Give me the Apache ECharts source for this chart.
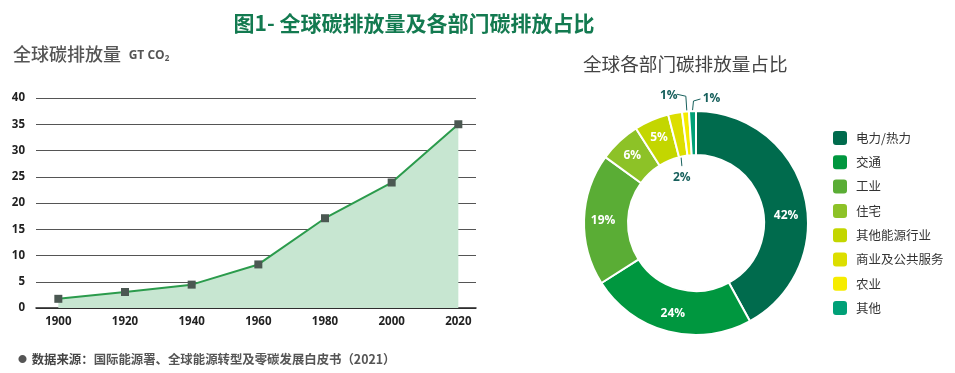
<!DOCTYPE html>
<html>
<head>
<meta charset="utf-8">
<script src="https://cdn.jsdelivr.net/npm/echarts@6/dist/echarts.min.js"></script>
<style>html,body{margin:0;padding:0;background:#fff}#c{width:955px;height:373px}</style>
</head>
<body>
<div id="c"></div>
<script>
// ---- data ----
const years = [1900, 1920, 1940, 1960, 1980, 2000, 2020];
const emissions = [1.75, 3.05, 4.45, 8.3, 17.1, 23.9, 35.0];
const yTicks = [0, 5, 10, 15, 20, 25, 30, 35, 40];
const sectors = ['电力/热力', '交通', '工业', '住宅', '其他能源行业', '商业及公共服务', '农业', '其他'];
const shares = [42, 24, 19, 6, 5, 2, 1, 1];
const sectorColors = ['#006b4d', '#00973f', '#5aad35', '#8dc227', '#c3d600', '#dcde00', '#f6ec00', '#00a077'];

const FONT = '"Open Sans", "Noto Sans CJK SC", sans-serif';
const CJK = '"Noto Sans CJK SC", "Open Sans", sans-serif';
const chart = echarts.init(document.getElementById('c'), null, {renderer: 'canvas'});

const lineData = years.map((y, i) => [y, emissions[i]]);
const pieData = sectors.map((n, i) => ({name: n, value: shares[i], itemStyle: {color: sectorColors[i]}}));

const option = {
  backgroundColor: '#fff',
  animation: false,
  textStyle: {fontFamily: FONT},
  title: [
    {text: '图1- 全球碳排放量及各部门碳排放占比', left: 414, top: 13, textAlign: 'center', padding: 0,
     textStyle: {fontFamily: CJK, fontSize: 21, fontWeight: 'bold', color: '#137a50'}},
    {text: '{a|全球碳排放量} {b|GT CO}{s|2}', left: 13, top: 45, padding: 0,
     textStyle: {rich: {
       a: {fontFamily: CJK, fontSize: 18, fontWeight: 500, color: '#555'},
       b: {fontFamily: FONT, fontSize: 12, fontWeight: 'bold', color: '#555', padding: [4, 0, 0, 3]},
       s: {fontFamily: FONT, fontSize: 8, fontWeight: 'bold', color: '#555', padding: [10, 0, 0, 0]}
     }}},
    {text: '全球各部门碳排放量占比', left: 583, top: 55, padding: 0,
     textStyle: {fontFamily: CJK, fontSize: 18.6, fontWeight: 'normal', color: '#444'}},
    {text: '{d|●} {b|数据来源：}{t|国际能源署、全球能源转型及零碳发展白皮书（2021）}', left: 18, top: 350, padding: 0,
     textStyle: {rich: {
       d: {fontSize: 9, color: '#555'},
       b: {fontFamily: CJK, fontSize: 12.4, fontWeight: 'bold', color: '#444'},
       t: {fontFamily: CJK, fontSize: 12.4, color: '#555'}
     }}}
  ],
  grid: {left: 36, right: 479, top: 98, bottom: 65, containLabel: false},
  xAxis: {
    type: 'value', min: 1893.3, max: 2025.3,
    axisLine: {show: true, lineStyle: {color: '#222', width: 1.5}},
    axisTick: {show: false},
    splitLine: {show: false},
    axisLabel: {customValues: years, formatter: v => String(v), margin: 8,
      fontSize: 11.5, fontWeight: 'bold', color: '#222', fontFamily: FONT}
  },
  yAxis: {
    type: 'value', min: 0, max: 40, interval: 5,
    axisLine: {show: false}, axisTick: {show: false},
    splitLine: {lineStyle: {color: '#555', width: 1}},
    axisLabel: {margin: 11, fontSize: 11.5, fontWeight: 'bold', color: '#222', fontFamily: FONT,
      formatter: v => String(v)}
  },
  legend: {
    orient: 'vertical', left: 831, top: 129, padding: 0, itemWidth: 16, itemHeight: 16, itemGap: 6.3,
    icon: 'roundRect', data: sectors,
    textStyle: {fontFamily: CJK, fontSize: 12.5, lineHeight: 16, color: '#333', padding: [0, 0, 0, 3]}
  },
  series: [
    {
      type: 'line', data: lineData, symbol: 'rect', symbolSize: 8,
      itemStyle: {color: '#4b5852'},
      lineStyle: {color: '#2b9b4c', width: 2},
      areaStyle: {color: '#c7e6d1', opacity: 1},
      z: 3
    },
    {
      type: 'pie', center: [696, 223], radius: [68, 112], startAngle: 90, clockwise: true,
      data: pieData,
      itemStyle: {borderColor: '#fff', borderWidth: 2},
      label: {show: true, position: 'inside', formatter: '{c}%', fontFamily: FONT, fontSize: 12,
        fontWeight: 'bold', color: '#fff'},
      labelLine: {show: false},
      emphasis: {disabled: true},
      labelLayout: function (p) {
        const r = p.rect;
        const cx = r.x + r.width / 2;
        if (p.dataIndex === 0) {
          return {dy: 16};
        }
        if (p.dataIndex === 5) {
          const bot = r.y + r.height;
          return {x: cx + 4, y: bot + 19, align: 'center', verticalAlign: 'middle',
            labelLinePoints: [[cx + 3, bot - 4], [cx + 4, bot + 7], [cx + 4, bot + 8]]};
        }
        if (p.dataIndex === 6) {
          return {x: cx - 18, y: r.y - 15, align: 'center', verticalAlign: 'middle',
            labelLinePoints: [[cx, r.y + 1], [cx - 1, r.y - 14], [cx - 10, r.y - 16]]};
        }
        if (p.dataIndex === 7) {
          return {x: cx + 19, y: r.y - 11, align: 'center', verticalAlign: 'middle',
            labelLinePoints: [[cx, r.y + 1], [cx + 1, r.y - 9], [cx + 8, r.y - 11]]};
        }
        return {};
      }
    }
  ]
};
// per-item labels for the small slices
[5, 6, 7].forEach(i => {
  pieData[i].label = {position: 'outside', color: '#17605c', fontSize: 12, fontWeight: 'bold'};
  pieData[i].labelLine = {show: true, lineStyle: {color: '#17605c', width: 1}};
});
chart.setOption(option);
</script>
</body>
</html>
